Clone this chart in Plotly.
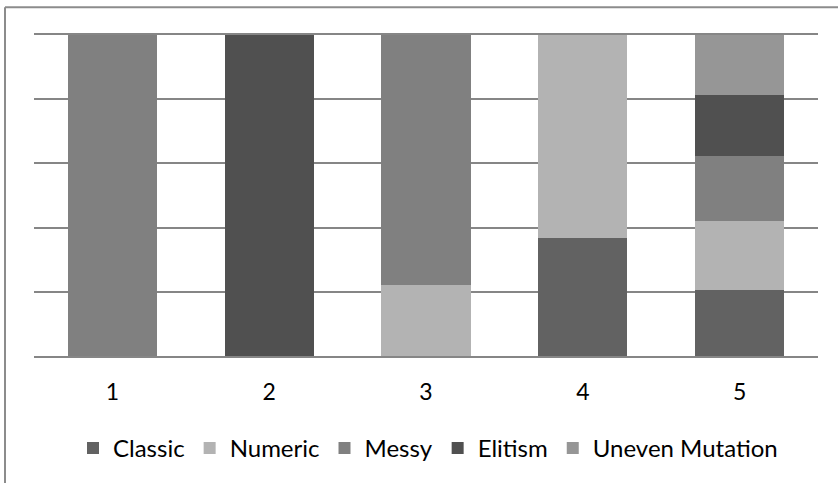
import plotly.graph_objects as go

categories = ["1", "2", "3", "4", "5"]
classic = [0, 0, 0, 36.7, 20.5]
numeric = [0, 0, 22.2, 63.3, 21.7]
messy = [100, 0, 77.8, 0, 20.0]
elitism = [0, 100, 0, 0, 19.1]
uneven = [0, 0, 0, 0, 18.7]

series = [
    ("Classic", classic, "#626262"),
    ("Numeric", numeric, "#b3b3b3"),
    ("Messy", messy, "#808080"),
    ("Elitism", elitism, "#505050"),
    ("Uneven Mutation", uneven, "#969696"),
]

fig = go.Figure()
for name, vals, col in series:
    fig.add_trace(go.Bar(x=categories, y=vals, name=name,
                         marker=dict(color=col, line=dict(width=0))))

W, H = 838, 483
L, R, T, B = 34, 20, 35, 125
pw, ph = W - L - R, H - T - B

def px2x(p):
    return (p - L) / pw

def py2y(p):
    return (H - B - p) / ph

fig.update_layout(
    width=W, height=H,
    margin=dict(l=L, r=R, t=T, b=B, pad=0),
    barmode="stack", bargap=0.43,
    plot_bgcolor="white", paper_bgcolor="white",
    font=dict(family="Lato, Open Sans, sans-serif", size=22, color="#000000"),
    xaxis=dict(showgrid=False, showline=True, mirror=True, linecolor="#868686", linewidth=1.5,
               ticks="", tickfont=dict(size=23), ticklabelstandoff=15),
    yaxis=dict(range=[0, 100], dtick=20, showticklabels=False, showgrid=True,
               gridcolor="#868686", gridwidth=1.5, zeroline=False, showline=False),
    legend=dict(orientation="h", x=px2x(428), xanchor="center", y=py2y(451), yanchor="middle",
                font=dict(size=24), itemwidth=30, traceorder="normal"),
    showlegend=True,
    shapes=[
        dict(type="line", xref="paper", yref="paper", x0=px2x(5), x1=px2x(5),
             y0=py2y(7), y1=py2y(H + 5), line=dict(color="#8c8c8c", width=2)),
        dict(type="line", xref="paper", yref="paper", x0=px2x(5), x1=px2x(W + 5),
             y0=py2y(7), y1=py2y(7), line=dict(color="#8c8c8c", width=2)),
    ],
)

fig.write_html("out.html", config={"displayModeBar": False},
               post_script="document.body.style.margin='0';")
